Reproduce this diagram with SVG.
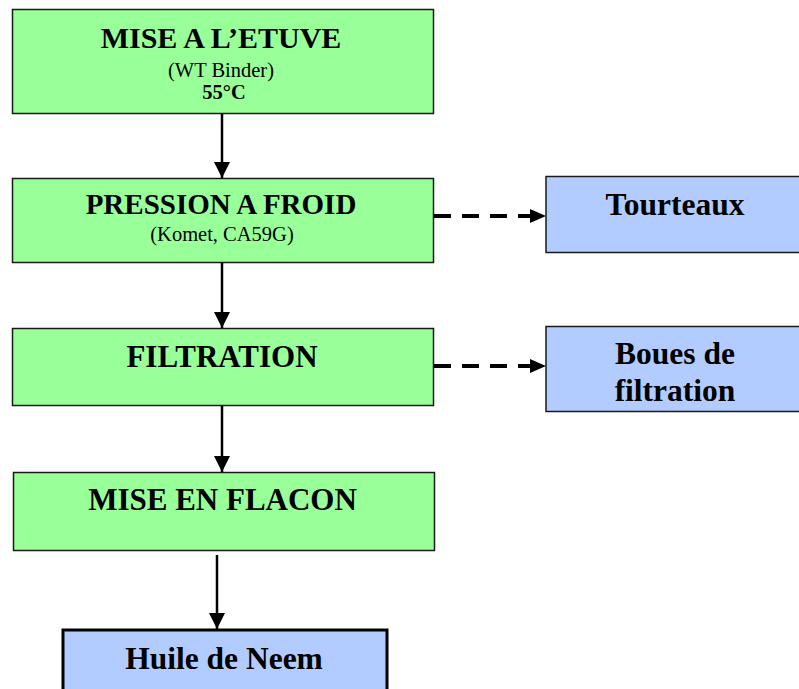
<svg xmlns="http://www.w3.org/2000/svg" width="799" height="689" viewBox="0 0 799 689">
<defs>
<style>
.g{fill:#99FF99;stroke:#1a1a1a;stroke-width:1.5}
.b{fill:#B3CCFF;stroke:#1a1a1a;stroke-width:1.5}
.t{font-family:"Liberation Serif","Times New Roman",serif;font-weight:bold;fill:#000;text-anchor:middle}
.s{font-family:"Liberation Serif","Times New Roman",serif;fill:#000;text-anchor:middle;font-size:20.5px}
.ln{stroke:#000;stroke-width:2.5;fill:none}
.dl{stroke:#000;stroke-width:4;fill:none;stroke-dasharray:17 11}
</style>
<marker id="ah" viewBox="0 0 16 16" refX="16" refY="8" markerWidth="16" markerHeight="16" markerUnits="userSpaceOnUse" orient="auto">
<path d="M0,0 L16,8 L0,16 z" fill="#000"/>
</marker>
</defs>
<rect width="799" height="689" fill="#fff"/>
<g id="n1">
<rect class="g" x="12.5" y="9.5" width="421" height="104"/>
<text class="t" x="221" y="48" font-size="30">MISE A L’ETUVE</text>
<text class="s" x="221" y="76.5">(WT Binder)</text>
<text class="t" x="224" y="99" font-size="20.5">55°C</text>
</g>
<g id="n2">
<rect class="g" x="12.5" y="178.5" width="421" height="84"/>
<text class="t" x="221" y="214" font-size="29">PRESSION A FROID</text>
<text class="s" x="222" y="241">(Komet, CA59G)</text>
</g>
<g id="n3">
<rect class="g" x="12.5" y="328.5" width="421" height="77"/>
<text class="t" x="222" y="367" font-size="31">FILTRATION</text>
</g>
<g id="n4">
<rect class="g" x="13.5" y="472.5" width="421" height="78"/>
<text class="t" x="222.5" y="510" font-size="31">MISE EN FLACON</text>
</g>
<g id="n5">
<rect x="63" y="630" width="324" height="70" fill="#B3CCFF" stroke="#000" stroke-width="3"/>
<text class="t" x="224" y="669" font-size="31.5">Huile de Neem</text>
</g>
<g id="n6">
<rect class="b" x="546" y="176.5" width="260" height="76"/>
<text class="t" x="675" y="215" font-size="31.5">Tourteaux</text>
</g>
<g id="n7">
<rect class="b" x="546" y="326.5" width="260" height="85"/>
<text class="t" x="675" y="364" font-size="31.5">Boues de</text>
<text class="t" x="675" y="401" font-size="31.5">filtration</text>
</g>
<g id="connectors">
<path class="ln" d="M222,113 V178" marker-end="url(#ah)"/>
<path class="ln" d="M222,263 V328" marker-end="url(#ah)"/>
<path class="ln" d="M222,406 V472" marker-end="url(#ah)"/>
<path class="ln" d="M217,555 V629" marker-end="url(#ah)"/>
<path class="dl" d="M434,216 H534"/>
<path d="M530,209 L546,216 L530,223 z" fill="#000"/>
<path class="dl" d="M434,366 H534"/>
<path d="M530,359 L546,366 L530,373 z" fill="#000"/>
</g>
</svg>
